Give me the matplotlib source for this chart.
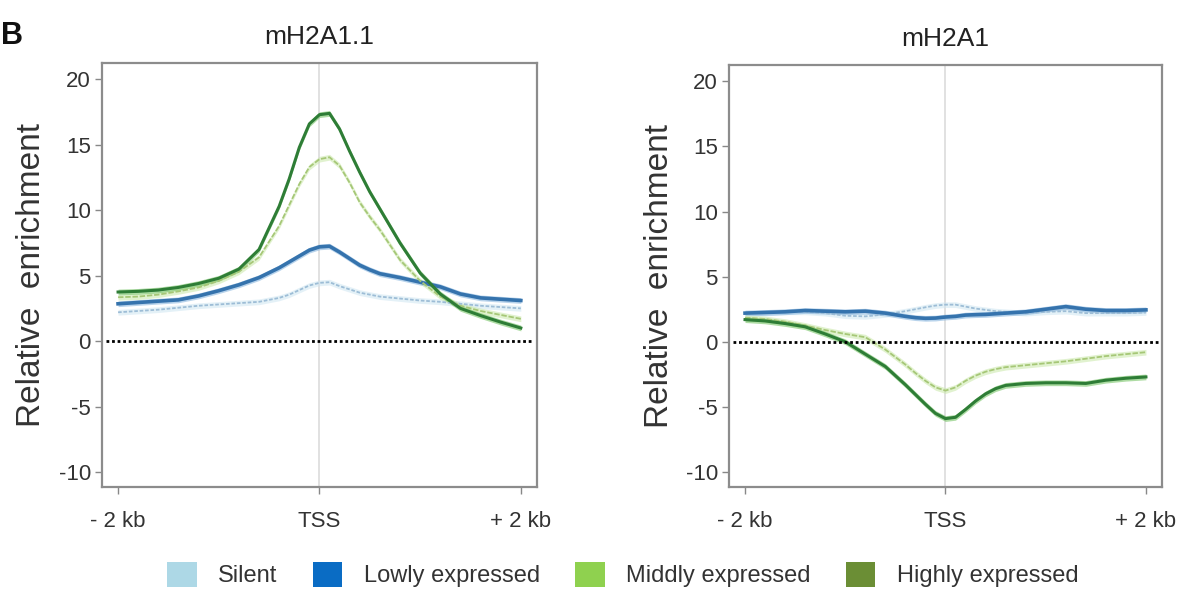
import matplotlib
matplotlib.use("Agg")
import matplotlib.pyplot as plt
from matplotlib.patches import Patch

plt.rcParams['font.family'] = ['Liberation Sans', 'DejaVu Sans']
plt.rcParams['axes.unicode_minus'] = False

# position relative to the TSS, in kb
pos = [-2.0, -1.8, -1.6, -1.4, -1.2, -1.0, -0.8, -0.6, -0.4, -0.3, -0.2,
       -0.1, 0.0, 0.1, 0.2, 0.3, 0.4, 0.5, 0.6, 0.8, 1.0, 1.2, 1.4, 1.6,
       1.8, 2.0]

# mH2A1.1 profiles
h11_silent = [2.2, 2.3, 2.4, 2.55, 2.7, 2.8, 2.9, 3.0, 3.3, 3.55, 3.9,
              4.25, 4.45, 4.5, 4.2, 3.95, 3.7, 3.55, 3.4, 3.25, 3.1, 3.0,
              2.85, 2.7, 2.6, 2.5]
h11_low = [2.85, 2.95, 3.05, 3.15, 3.45, 3.85, 4.3, 4.85, 5.6, 6.05, 6.5,
           6.95, 7.2, 7.25, 6.8, 6.3, 5.8, 5.45, 5.15, 4.85, 4.5, 4.15,
           3.6, 3.3, 3.2, 3.1]
h11_mid = [3.35, 3.4, 3.55, 3.8, 4.1, 4.6, 5.3, 6.4, 8.8, 10.4, 12.0,
           13.3, 13.9, 14.05, 13.4, 12.1, 10.6, 9.5, 8.5, 6.2, 4.6, 3.4,
           2.7, 2.3, 2.0, 1.7]
h11_high = [3.75, 3.8, 3.9, 4.1, 4.4, 4.8, 5.5, 7.0, 10.3, 12.4, 14.8,
            16.6, 17.3, 17.4, 16.2, 14.5, 12.9, 11.4, 10.1, 7.5, 5.2, 3.6,
            2.5, 1.95, 1.45, 1.0]

# mH2A1 profiles
h1_silent = [2.2, 2.2, 2.3, 2.3, 2.2, 2.0, 1.95, 2.1, 2.35, 2.5, 2.65,
             2.78, 2.85, 2.85, 2.7, 2.55, 2.45, 2.35, 2.3, 2.2, 2.3, 2.35,
             2.2, 2.2, 2.2, 2.25]
h1_low = [2.2, 2.25, 2.3, 2.4, 2.35, 2.3, 2.35, 2.2, 1.95, 1.85, 1.8,
          1.82, 1.9, 1.95, 2.05, 2.08, 2.1, 2.15, 2.2, 2.3, 2.5, 2.7,
          2.5, 2.4, 2.4, 2.45]
h1_mid = [1.85, 1.75, 1.55, 1.25, 0.9, 0.6, 0.35, -0.6, -1.75, -2.4, -3.0,
          -3.5, -3.75, -3.5, -3.0, -2.6, -2.3, -2.1, -1.95, -1.8, -1.65,
          -1.5, -1.3, -1.1, -0.95, -0.8]
h1_high = [1.7, 1.6, 1.4, 1.15, 0.6, 0.0, -0.95, -1.9, -3.3, -4.05, -4.8,
           -5.5, -5.9, -5.8, -5.2, -4.55, -4.0, -3.6, -3.35, -3.2, -3.15,
           -3.15, -3.2, -2.95, -2.8, -2.7]

titles = ["mH2A1.1", "mH2A1"]
groups = ["Silent", "Lowly expressed", "Middly expressed", "Highly expressed"]
patch_colors = ["#add8e6", "#0a6cc4", "#8fd14f", "#6b8e35"]
line_colors = ["#9dbdd6", "#3573ad", "#a6c777", "#2e7d36"]
band_colors = ["#cfe6f2", "#7fb0dc", "#c9e8a8", "#6cc05a"]
line_widths = [1.3, 2.6, 1.3, 2.2]
line_styles = [(0, (2, 1)), "-", (0, (3, 1)), "-"]

panels = [[h11_silent, h11_low, h11_mid, h11_high],
          [h1_silent, h1_low, h1_mid, h1_high]]

fig = plt.figure(figsize=(11.84, 5.9), dpi=100)
axes = [fig.add_axes([0.0861, 0.1746, 0.3674, 0.7186]),
        fig.add_axes([0.6157, 0.1746, 0.3657, 0.7152])]

for ax, title, series in zip(axes, titles, panels):
    ax.axvline(0, color="#dcdcdc", lw=1.2, zorder=0)
    for vals, lc, bc, lw, ls in zip(series, line_colors, band_colors,
                                    line_widths, line_styles):
        lo = [v - 0.22 for v in vals]
        hi = [v + 0.22 for v in vals]
        ax.fill_between(pos, lo, hi, color=bc, alpha=0.55, lw=0, zorder=2)
        ax.plot(pos, vals, color=lc, lw=lw, ls=ls, zorder=3,
                solid_joinstyle="round")
    ax.hlines(0, -2.12, 2.12, colors="black", linestyles=(0, (1, 1)),
              lw=2, zorder=4)
    ax.set_xlim(-2.16, 2.16)
    ax.set_ylim(-11.15, 21.25)
    ax.set_xticks([-2, 0, 2])
    ax.set_xticklabels(["- 2 kb", "TSS", "+ 2 kb"])
    ax.set_yticks([-10, -5, 0, 5, 10, 15, 20])
    ax.tick_params(direction="out", length=5, width=1, color="#888888",
                   labelcolor="#333333", labelsize=16, pad=3)
    ax.tick_params(axis="x", pad=12)
    for sp in ax.spines.values():
        sp.set_color("#8c8c8c")
        sp.set_linewidth(1.6)
    ax.set_ylabel("Relative  enrichment", fontsize=24, color="#333333",
                  labelpad=8)
    ax.set_title(title, fontsize=19, color="#222222", pad=14)

fig.text(0.001, 0.925, "B", fontsize=22, fontweight="bold", color="#111111")

handles = [Patch(facecolor=c, edgecolor="none") for c in patch_colors]
fig.legend(handles, groups, loc="center", bbox_to_anchor=(0.526, 0.026),
           ncol=4, frameon=False, fontsize=17, handlelength=1.25,
           handleheight=1.25, handletextpad=0.9, columnspacing=1.5,
           labelcolor="#333333")

fig.savefig("out.png", dpi=100)
